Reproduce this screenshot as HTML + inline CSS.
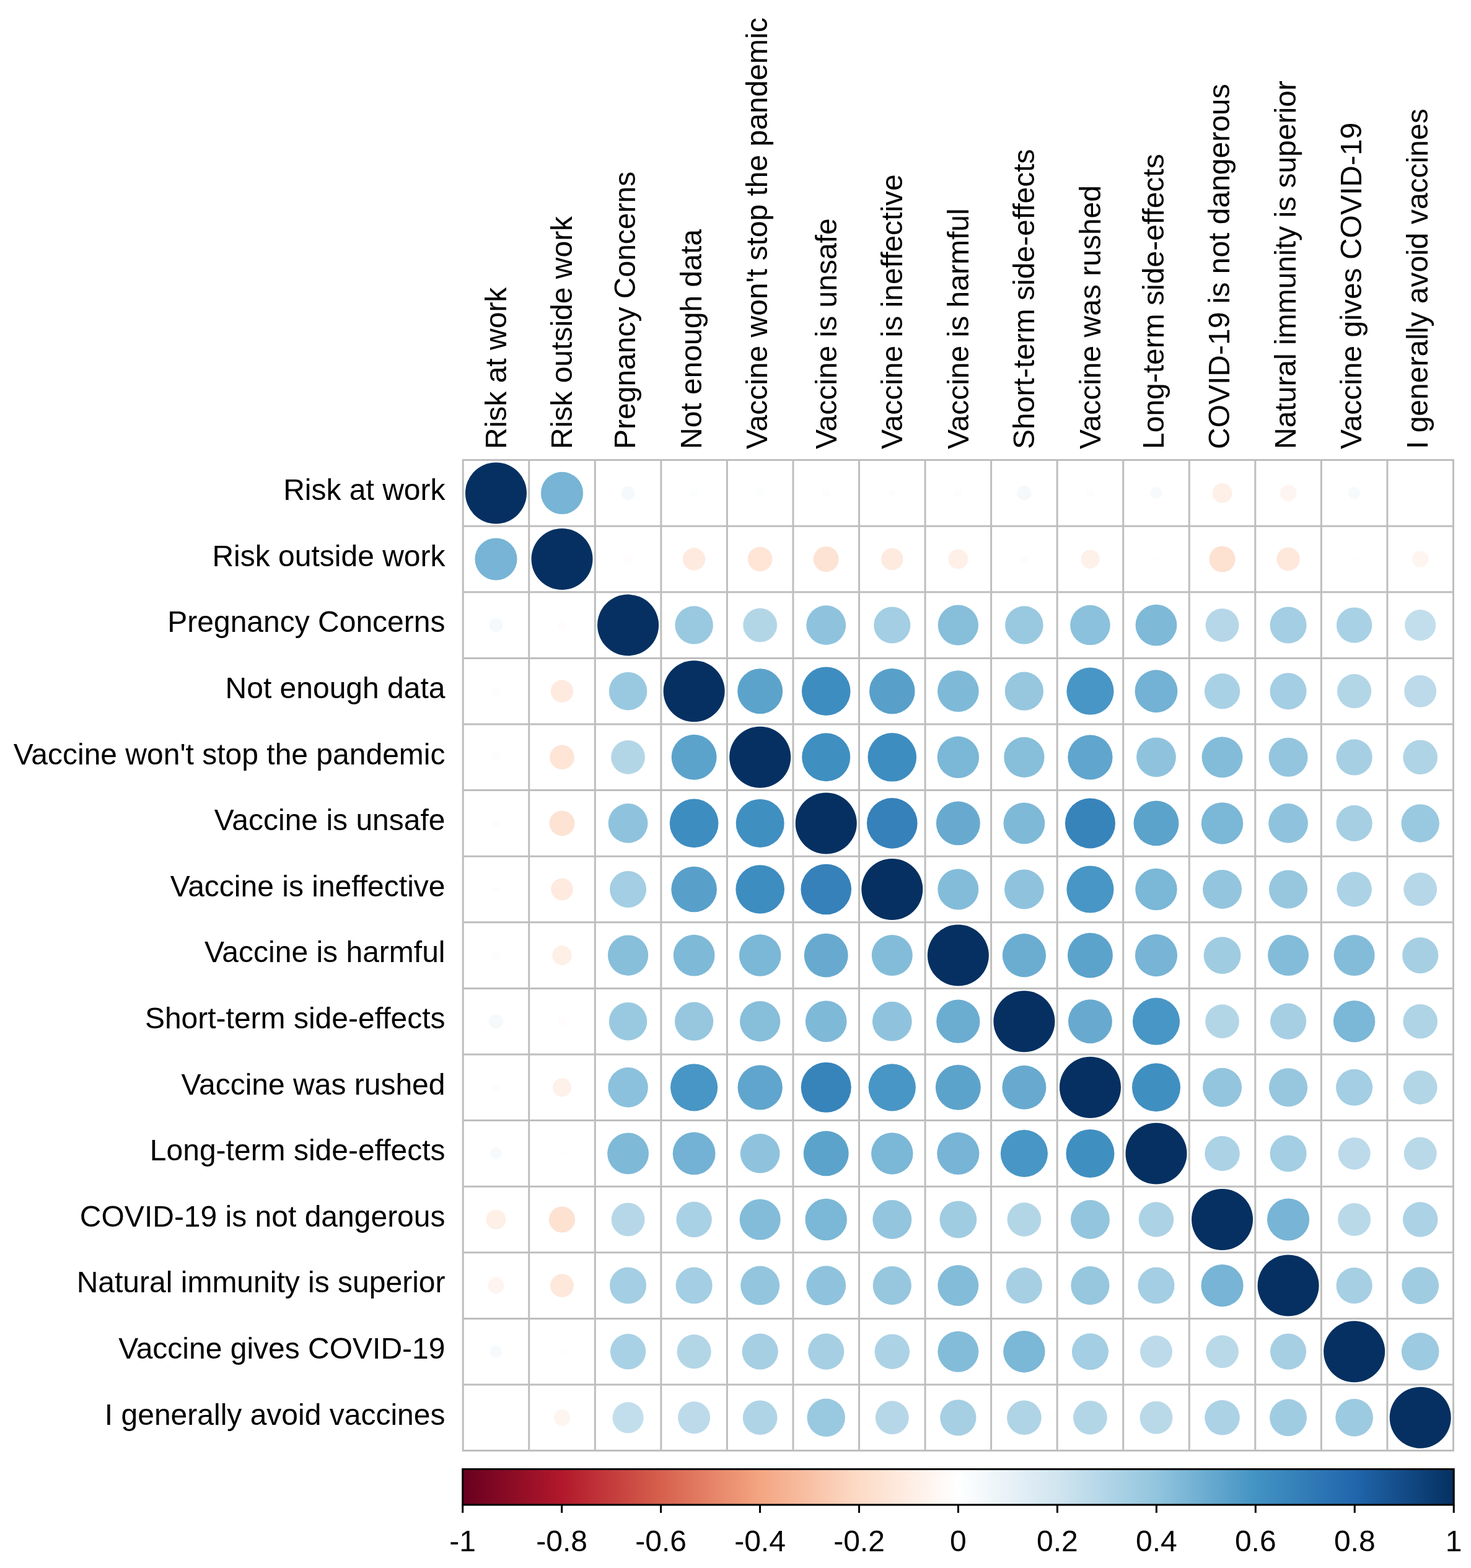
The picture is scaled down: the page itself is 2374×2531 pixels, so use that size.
<!DOCTYPE html>
<html><head><meta charset="utf-8"><title>Correlation plot</title>
<style>html,body{margin:0;padding:0;background:#fff;}svg{display:block;}</style>
</head><body>
<svg width="2374" height="2531" viewBox="0 0 2374 2531">
<rect width="2374" height="2531" fill="#fff"/>
<defs><linearGradient id="g" x1="0" x2="1" y1="0" y2="0"><stop offset="0.0" stop-color="#67001F"/><stop offset="0.1" stop-color="#B2182B"/><stop offset="0.2" stop-color="#D6604D"/><stop offset="0.3" stop-color="#F4A582"/><stop offset="0.4" stop-color="#FDDBC7"/><stop offset="0.5" stop-color="#FFFFFF"/><stop offset="0.6" stop-color="#D1E5F0"/><stop offset="0.7" stop-color="#92C5DE"/><stop offset="0.8" stop-color="#4393C3"/><stop offset="0.9" stop-color="#2166AC"/><stop offset="1.0" stop-color="#053061"/></linearGradient></defs>
<g>
<circle cx="800.48" cy="795.90" r="49.52" fill="#053061"/>
<circle cx="907.03" cy="795.90" r="34.08" fill="#77b4d5"/>
<circle cx="1013.58" cy="795.90" r="11.14" fill="#f5f9fc"/>
<circle cx="1120.12" cy="795.90" r="7.43" fill="#fcfdfe"/>
<circle cx="1226.67" cy="795.90" r="7.43" fill="#fcfdfe"/>
<circle cx="1333.22" cy="795.90" r="7.43" fill="#fcfdfe"/>
<circle cx="1439.78" cy="795.90" r="6.35" fill="#fcfdfe"/>
<circle cx="1546.33" cy="795.90" r="6.35" fill="#fcfdfe"/>
<circle cx="1652.88" cy="795.90" r="11.73" fill="#f5f9fc"/>
<circle cx="1759.43" cy="795.90" r="6.35" fill="#fcfdfe"/>
<circle cx="1865.97" cy="795.90" r="9.86" fill="#f7fafc"/>
<circle cx="1972.53" cy="795.90" r="15.94" fill="#fef0e7"/>
<circle cx="2079.07" cy="795.90" r="13.30" fill="#fef5f0"/>
<circle cx="2185.62" cy="795.90" r="9.86" fill="#f7fafc"/>
<circle cx="800.48" cy="902.50" r="34.08" fill="#77b4d5"/>
<circle cx="907.03" cy="902.50" r="49.52" fill="#053061"/>
<circle cx="1013.58" cy="902.50" r="7.43" fill="#fffcfb"/>
<circle cx="1120.12" cy="902.50" r="18.17" fill="#feeadf"/>
<circle cx="1226.67" cy="902.50" r="19.82" fill="#fee5d6"/>
<circle cx="1333.22" cy="902.50" r="20.44" fill="#fde3d3"/>
<circle cx="1439.78" cy="902.50" r="17.82" fill="#feeadf"/>
<circle cx="1546.33" cy="902.50" r="15.94" fill="#fef0e7"/>
<circle cx="1652.88" cy="902.50" r="7.43" fill="#fffcfb"/>
<circle cx="1759.43" cy="902.50" r="15.12" fill="#fef1ea"/>
<circle cx="1865.97" cy="902.50" r="5.84" fill="#fffefe"/>
<circle cx="1972.53" cy="902.50" r="21.04" fill="#fde1d1"/>
<circle cx="2079.07" cy="902.50" r="18.85" fill="#fee8dc"/>
<circle cx="2185.62" cy="902.50" r="6.35" fill="#fffefe"/>
<circle cx="2292.18" cy="902.50" r="13.30" fill="#fef5f0"/>
<circle cx="800.48" cy="1009.10" r="11.14" fill="#f5f9fc"/>
<circle cx="907.03" cy="1009.10" r="7.43" fill="#fffcfb"/>
<circle cx="1013.58" cy="1009.10" r="49.52" fill="#053061"/>
<circle cx="1120.12" cy="1009.10" r="30.73" fill="#99c9e0"/>
<circle cx="1226.67" cy="1009.10" r="27.38" fill="#b3d6e7"/>
<circle cx="1333.22" cy="1009.10" r="31.89" fill="#8fc3dd"/>
<circle cx="1439.78" cy="1009.10" r="29.52" fill="#a3cee3"/>
<circle cx="1546.33" cy="1009.10" r="32.64" fill="#87beda"/>
<circle cx="1652.88" cy="1009.10" r="30.73" fill="#99c9e0"/>
<circle cx="1759.43" cy="1009.10" r="32.27" fill="#8bc1dc"/>
<circle cx="1865.97" cy="1009.10" r="33.37" fill="#7fb9d8"/>
<circle cx="1972.53" cy="1009.10" r="26.93" fill="#b6d7e8"/>
<circle cx="2079.07" cy="1009.10" r="29.52" fill="#a3cee3"/>
<circle cx="2185.62" cy="1009.10" r="28.69" fill="#a9d1e5"/>
<circle cx="2292.18" cy="1009.10" r="25.05" fill="#c2deec"/>
<circle cx="800.48" cy="1115.70" r="7.43" fill="#fcfdfe"/>
<circle cx="907.03" cy="1115.70" r="18.17" fill="#feeadf"/>
<circle cx="1013.58" cy="1115.70" r="30.73" fill="#99c9e0"/>
<circle cx="1120.12" cy="1115.70" r="49.52" fill="#053061"/>
<circle cx="1226.67" cy="1115.70" r="36.47" fill="#5ca3cb"/>
<circle cx="1333.22" cy="1115.70" r="39.32" fill="#3e8dc0"/>
<circle cx="1439.78" cy="1115.70" r="36.80" fill="#58a0ca"/>
<circle cx="1546.33" cy="1115.70" r="33.37" fill="#7fb9d8"/>
<circle cx="1652.88" cy="1115.70" r="31.12" fill="#96c7df"/>
<circle cx="1759.43" cy="1115.70" r="38.08" fill="#4896c5"/>
<circle cx="1865.97" cy="1115.70" r="34.44" fill="#73b2d4"/>
<circle cx="1972.53" cy="1115.70" r="28.69" fill="#a9d1e5"/>
<circle cx="2079.07" cy="1115.70" r="29.52" fill="#a3cee3"/>
<circle cx="2185.62" cy="1115.70" r="27.60" fill="#b3d6e7"/>
<circle cx="2292.18" cy="1115.70" r="26.01" fill="#bcdaea"/>
<circle cx="800.48" cy="1222.30" r="7.43" fill="#fcfdfe"/>
<circle cx="907.03" cy="1222.30" r="19.82" fill="#fee5d6"/>
<circle cx="1013.58" cy="1222.30" r="27.38" fill="#b3d6e7"/>
<circle cx="1120.12" cy="1222.30" r="36.47" fill="#5ca3cb"/>
<circle cx="1226.67" cy="1222.30" r="49.52" fill="#053061"/>
<circle cx="1333.22" cy="1222.30" r="39.02" fill="#408fc1"/>
<circle cx="1439.78" cy="1222.30" r="39.32" fill="#3e8dc0"/>
<circle cx="1546.33" cy="1222.30" r="33.73" fill="#7bb7d6"/>
<circle cx="1652.88" cy="1222.30" r="32.64" fill="#87beda"/>
<circle cx="1759.43" cy="1222.30" r="36.14" fill="#60a5cd"/>
<circle cx="1865.97" cy="1222.30" r="31.89" fill="#8fc3dd"/>
<circle cx="1972.53" cy="1222.30" r="33.01" fill="#83bcd9"/>
<circle cx="2079.07" cy="1222.30" r="31.51" fill="#93c5de"/>
<circle cx="2185.62" cy="1222.30" r="29.11" fill="#a6cfe4"/>
<circle cx="2292.18" cy="1222.30" r="27.82" fill="#afd4e6"/>
<circle cx="800.48" cy="1328.90" r="7.43" fill="#fcfdfe"/>
<circle cx="907.03" cy="1328.90" r="20.44" fill="#fde3d3"/>
<circle cx="1013.58" cy="1328.90" r="31.89" fill="#8fc3dd"/>
<circle cx="1120.12" cy="1328.90" r="39.32" fill="#3e8dc0"/>
<circle cx="1226.67" cy="1328.90" r="39.02" fill="#408fc1"/>
<circle cx="1333.22" cy="1328.90" r="49.52" fill="#053061"/>
<circle cx="1439.78" cy="1328.90" r="40.82" fill="#3681ba"/>
<circle cx="1546.33" cy="1328.90" r="35.47" fill="#68aacf"/>
<circle cx="1652.88" cy="1328.90" r="33.37" fill="#7fb9d8"/>
<circle cx="1759.43" cy="1328.90" r="40.52" fill="#3784bb"/>
<circle cx="1865.97" cy="1328.90" r="36.47" fill="#5ca3cb"/>
<circle cx="1972.53" cy="1328.90" r="33.73" fill="#7bb7d6"/>
<circle cx="2079.07" cy="1328.90" r="31.89" fill="#8fc3dd"/>
<circle cx="2185.62" cy="1328.90" r="29.11" fill="#a6cfe4"/>
<circle cx="2292.18" cy="1328.90" r="30.73" fill="#99c9e0"/>
<circle cx="800.48" cy="1435.50" r="6.35" fill="#fcfdfe"/>
<circle cx="907.03" cy="1435.50" r="17.82" fill="#feeadf"/>
<circle cx="1013.58" cy="1435.50" r="29.52" fill="#a3cee3"/>
<circle cx="1120.12" cy="1435.50" r="36.80" fill="#58a0ca"/>
<circle cx="1226.67" cy="1435.50" r="39.32" fill="#3e8dc0"/>
<circle cx="1333.22" cy="1435.50" r="40.82" fill="#3681ba"/>
<circle cx="1439.78" cy="1435.50" r="49.52" fill="#053061"/>
<circle cx="1546.33" cy="1435.50" r="33.01" fill="#83bcd9"/>
<circle cx="1652.88" cy="1435.50" r="31.89" fill="#8fc3dd"/>
<circle cx="1759.43" cy="1435.50" r="38.08" fill="#4896c5"/>
<circle cx="1865.97" cy="1435.50" r="33.73" fill="#7bb7d6"/>
<circle cx="1972.53" cy="1435.50" r="31.51" fill="#93c5de"/>
<circle cx="2079.07" cy="1435.50" r="31.12" fill="#96c7df"/>
<circle cx="2185.62" cy="1435.50" r="28.26" fill="#acd2e6"/>
<circle cx="2292.18" cy="1435.50" r="26.93" fill="#b6d7e8"/>
<circle cx="800.48" cy="1542.10" r="6.35" fill="#fcfdfe"/>
<circle cx="907.03" cy="1542.10" r="15.94" fill="#fef0e7"/>
<circle cx="1013.58" cy="1542.10" r="32.64" fill="#87beda"/>
<circle cx="1120.12" cy="1542.10" r="33.37" fill="#7fb9d8"/>
<circle cx="1226.67" cy="1542.10" r="33.73" fill="#7bb7d6"/>
<circle cx="1333.22" cy="1542.10" r="35.47" fill="#68aacf"/>
<circle cx="1439.78" cy="1542.10" r="33.01" fill="#83bcd9"/>
<circle cx="1546.33" cy="1542.10" r="49.52" fill="#053061"/>
<circle cx="1652.88" cy="1542.10" r="35.13" fill="#6badd1"/>
<circle cx="1759.43" cy="1542.10" r="36.47" fill="#5ca3cb"/>
<circle cx="1865.97" cy="1542.10" r="34.08" fill="#77b4d5"/>
<circle cx="1972.53" cy="1542.10" r="29.93" fill="#a0cce2"/>
<circle cx="2079.07" cy="1542.10" r="33.01" fill="#83bcd9"/>
<circle cx="2185.62" cy="1542.10" r="33.01" fill="#83bcd9"/>
<circle cx="2292.18" cy="1542.10" r="29.11" fill="#a6cfe4"/>
<circle cx="800.48" cy="1648.70" r="11.73" fill="#f5f9fc"/>
<circle cx="907.03" cy="1648.70" r="7.43" fill="#fffcfb"/>
<circle cx="1013.58" cy="1648.70" r="30.73" fill="#99c9e0"/>
<circle cx="1120.12" cy="1648.70" r="31.12" fill="#96c7df"/>
<circle cx="1226.67" cy="1648.70" r="32.64" fill="#87beda"/>
<circle cx="1333.22" cy="1648.70" r="33.37" fill="#7fb9d8"/>
<circle cx="1439.78" cy="1648.70" r="31.89" fill="#8fc3dd"/>
<circle cx="1546.33" cy="1648.70" r="35.13" fill="#6badd1"/>
<circle cx="1652.88" cy="1648.70" r="49.52" fill="#053061"/>
<circle cx="1759.43" cy="1648.70" r="35.47" fill="#68aacf"/>
<circle cx="1865.97" cy="1648.70" r="38.08" fill="#4896c5"/>
<circle cx="1972.53" cy="1648.70" r="27.38" fill="#b3d6e7"/>
<circle cx="2079.07" cy="1648.70" r="29.11" fill="#a6cfe4"/>
<circle cx="2185.62" cy="1648.70" r="33.73" fill="#7bb7d6"/>
<circle cx="2292.18" cy="1648.70" r="27.82" fill="#afd4e6"/>
<circle cx="800.48" cy="1755.30" r="6.35" fill="#fcfdfe"/>
<circle cx="907.03" cy="1755.30" r="15.12" fill="#fef1ea"/>
<circle cx="1013.58" cy="1755.30" r="32.27" fill="#8bc1dc"/>
<circle cx="1120.12" cy="1755.30" r="38.08" fill="#4896c5"/>
<circle cx="1226.67" cy="1755.30" r="36.14" fill="#60a5cd"/>
<circle cx="1333.22" cy="1755.30" r="40.52" fill="#3784bb"/>
<circle cx="1439.78" cy="1755.30" r="38.08" fill="#4896c5"/>
<circle cx="1546.33" cy="1755.30" r="36.47" fill="#5ca3cb"/>
<circle cx="1652.88" cy="1755.30" r="35.47" fill="#68aacf"/>
<circle cx="1759.43" cy="1755.30" r="49.52" fill="#053061"/>
<circle cx="1865.97" cy="1755.30" r="39.02" fill="#408fc1"/>
<circle cx="1972.53" cy="1755.30" r="31.51" fill="#93c5de"/>
<circle cx="2079.07" cy="1755.30" r="31.12" fill="#96c7df"/>
<circle cx="2185.62" cy="1755.30" r="29.52" fill="#a3cee3"/>
<circle cx="2292.18" cy="1755.30" r="27.38" fill="#b3d6e7"/>
<circle cx="800.48" cy="1861.90" r="9.86" fill="#f7fafc"/>
<circle cx="907.03" cy="1861.90" r="5.84" fill="#fffefe"/>
<circle cx="1013.58" cy="1861.90" r="33.37" fill="#7fb9d8"/>
<circle cx="1120.12" cy="1861.90" r="34.44" fill="#73b2d4"/>
<circle cx="1226.67" cy="1861.90" r="31.89" fill="#8fc3dd"/>
<circle cx="1333.22" cy="1861.90" r="36.47" fill="#5ca3cb"/>
<circle cx="1439.78" cy="1861.90" r="33.73" fill="#7bb7d6"/>
<circle cx="1546.33" cy="1861.90" r="34.08" fill="#77b4d5"/>
<circle cx="1652.88" cy="1861.90" r="38.08" fill="#4896c5"/>
<circle cx="1759.43" cy="1861.90" r="39.02" fill="#408fc1"/>
<circle cx="1865.97" cy="1861.90" r="49.52" fill="#053061"/>
<circle cx="1972.53" cy="1861.90" r="28.26" fill="#acd2e6"/>
<circle cx="2079.07" cy="1861.90" r="29.52" fill="#a3cee3"/>
<circle cx="2185.62" cy="1861.90" r="26.01" fill="#bcdaea"/>
<circle cx="2292.18" cy="1861.90" r="26.48" fill="#b9d9e9"/>
<circle cx="800.48" cy="1968.50" r="15.94" fill="#fef0e7"/>
<circle cx="907.03" cy="1968.50" r="21.04" fill="#fde1d1"/>
<circle cx="1013.58" cy="1968.50" r="26.93" fill="#b6d7e8"/>
<circle cx="1120.12" cy="1968.50" r="28.69" fill="#a9d1e5"/>
<circle cx="1226.67" cy="1968.50" r="33.01" fill="#83bcd9"/>
<circle cx="1333.22" cy="1968.50" r="33.73" fill="#7bb7d6"/>
<circle cx="1439.78" cy="1968.50" r="31.51" fill="#93c5de"/>
<circle cx="1546.33" cy="1968.50" r="29.93" fill="#a0cce2"/>
<circle cx="1652.88" cy="1968.50" r="27.38" fill="#b3d6e7"/>
<circle cx="1759.43" cy="1968.50" r="31.51" fill="#93c5de"/>
<circle cx="1865.97" cy="1968.50" r="28.26" fill="#acd2e6"/>
<circle cx="1972.53" cy="1968.50" r="49.52" fill="#053061"/>
<circle cx="2079.07" cy="1968.50" r="34.08" fill="#77b4d5"/>
<circle cx="2185.62" cy="1968.50" r="26.48" fill="#b9d9e9"/>
<circle cx="2292.18" cy="1968.50" r="28.26" fill="#acd2e6"/>
<circle cx="800.48" cy="2075.10" r="13.30" fill="#fef5f0"/>
<circle cx="907.03" cy="2075.10" r="18.85" fill="#fee8dc"/>
<circle cx="1013.58" cy="2075.10" r="29.52" fill="#a3cee3"/>
<circle cx="1120.12" cy="2075.10" r="29.52" fill="#a3cee3"/>
<circle cx="1226.67" cy="2075.10" r="31.51" fill="#93c5de"/>
<circle cx="1333.22" cy="2075.10" r="31.89" fill="#8fc3dd"/>
<circle cx="1439.78" cy="2075.10" r="31.12" fill="#96c7df"/>
<circle cx="1546.33" cy="2075.10" r="33.01" fill="#83bcd9"/>
<circle cx="1652.88" cy="2075.10" r="29.11" fill="#a6cfe4"/>
<circle cx="1759.43" cy="2075.10" r="31.12" fill="#96c7df"/>
<circle cx="1865.97" cy="2075.10" r="29.52" fill="#a3cee3"/>
<circle cx="1972.53" cy="2075.10" r="34.08" fill="#77b4d5"/>
<circle cx="2079.07" cy="2075.10" r="49.52" fill="#053061"/>
<circle cx="2185.62" cy="2075.10" r="29.11" fill="#a6cfe4"/>
<circle cx="2292.18" cy="2075.10" r="29.93" fill="#a0cce2"/>
<circle cx="800.48" cy="2181.70" r="9.86" fill="#f7fafc"/>
<circle cx="907.03" cy="2181.70" r="6.35" fill="#fffefe"/>
<circle cx="1013.58" cy="2181.70" r="28.69" fill="#a9d1e5"/>
<circle cx="1120.12" cy="2181.70" r="27.60" fill="#b3d6e7"/>
<circle cx="1226.67" cy="2181.70" r="29.11" fill="#a6cfe4"/>
<circle cx="1333.22" cy="2181.70" r="29.11" fill="#a6cfe4"/>
<circle cx="1439.78" cy="2181.70" r="28.26" fill="#acd2e6"/>
<circle cx="1546.33" cy="2181.70" r="33.01" fill="#83bcd9"/>
<circle cx="1652.88" cy="2181.70" r="33.73" fill="#7bb7d6"/>
<circle cx="1759.43" cy="2181.70" r="29.52" fill="#a3cee3"/>
<circle cx="1865.97" cy="2181.70" r="26.01" fill="#bcdaea"/>
<circle cx="1972.53" cy="2181.70" r="26.48" fill="#b9d9e9"/>
<circle cx="2079.07" cy="2181.70" r="29.11" fill="#a6cfe4"/>
<circle cx="2185.62" cy="2181.70" r="49.52" fill="#053061"/>
<circle cx="2292.18" cy="2181.70" r="30.33" fill="#9ccae1"/>
<circle cx="907.03" cy="2288.30" r="13.30" fill="#fef5f0"/>
<circle cx="1013.58" cy="2288.30" r="25.05" fill="#c2deec"/>
<circle cx="1120.12" cy="2288.30" r="26.01" fill="#bcdaea"/>
<circle cx="1226.67" cy="2288.30" r="27.82" fill="#afd4e6"/>
<circle cx="1333.22" cy="2288.30" r="30.73" fill="#99c9e0"/>
<circle cx="1439.78" cy="2288.30" r="26.93" fill="#b6d7e8"/>
<circle cx="1546.33" cy="2288.30" r="29.11" fill="#a6cfe4"/>
<circle cx="1652.88" cy="2288.30" r="27.82" fill="#afd4e6"/>
<circle cx="1759.43" cy="2288.30" r="27.38" fill="#b3d6e7"/>
<circle cx="1865.97" cy="2288.30" r="26.48" fill="#b9d9e9"/>
<circle cx="1972.53" cy="2288.30" r="28.26" fill="#acd2e6"/>
<circle cx="2079.07" cy="2288.30" r="29.93" fill="#a0cce2"/>
<circle cx="2185.62" cy="2288.30" r="30.33" fill="#9ccae1"/>
<circle cx="2292.18" cy="2288.30" r="49.52" fill="#053061"/>
</g>
<path d="M747.20 741.10V2343.10M745.70 742.60H2346.95M853.75 741.10V2343.10M745.70 849.20H2346.95M960.30 741.10V2343.10M745.70 955.80H2346.95M1066.85 741.10V2343.10M745.70 1062.40H2346.95M1173.40 741.10V2343.10M745.70 1169.00H2346.95M1279.95 741.10V2343.10M745.70 1275.60H2346.95M1386.50 741.10V2343.10M745.70 1382.20H2346.95M1493.05 741.10V2343.10M745.70 1488.80H2346.95M1599.60 741.10V2343.10M745.70 1595.40H2346.95M1706.15 741.10V2343.10M745.70 1702.00H2346.95M1812.70 741.10V2343.10M745.70 1808.60H2346.95M1919.25 741.10V2343.10M745.70 1915.20H2346.95M2025.80 741.10V2343.10M745.70 2021.80H2346.95M2132.35 741.10V2343.10M745.70 2128.40H2346.95M2238.90 741.10V2343.10M745.70 2235.00H2346.95M2345.45 741.10V2343.10M745.70 2341.60H2346.95" stroke="#bebebe" stroke-width="3" fill="none"/>
<g style="font-family:'Liberation Sans',sans-serif" font-size="48" fill="#000">
<text x="718.5" y="807.10" text-anchor="end">Risk at work</text>
<text x="718.5" y="913.70" text-anchor="end">Risk outside work</text>
<text x="718.5" y="1020.30" text-anchor="end">Pregnancy Concerns</text>
<text x="718.5" y="1126.90" text-anchor="end">Not enough data</text>
<text x="718.5" y="1233.50" text-anchor="end">Vaccine won&#39;t stop the pandemic</text>
<text x="718.5" y="1340.10" text-anchor="end">Vaccine is unsafe</text>
<text x="718.5" y="1446.70" text-anchor="end">Vaccine is ineffective</text>
<text x="718.5" y="1553.30" text-anchor="end">Vaccine is harmful</text>
<text x="718.5" y="1659.90" text-anchor="end">Short-term side-effects</text>
<text x="718.5" y="1766.50" text-anchor="end">Vaccine was rushed</text>
<text x="718.5" y="1873.10" text-anchor="end">Long-term side-effects</text>
<text x="718.5" y="1979.70" text-anchor="end">COVID-19 is not dangerous</text>
<text x="718.5" y="2086.30" text-anchor="end">Natural immunity is superior</text>
<text x="718.5" y="2192.90" text-anchor="end">Vaccine gives COVID-19</text>
<text x="718.5" y="2299.50" text-anchor="end">I generally avoid vaccines</text>
<text transform="translate(816.88,725) rotate(-90)" x="0" y="0">Risk at work</text>
<text transform="translate(923.43,725) rotate(-90)" x="0" y="0">Risk outside work</text>
<text transform="translate(1025.28,725) rotate(-90)" x="0" y="0">Pregnancy Concerns</text>
<text transform="translate(1131.83,725) rotate(-90)" x="0" y="0">Not enough data</text>
<text transform="translate(1238.38,725) rotate(-90)" x="0" y="0">Vaccine won&#39;t stop the pandemic</text>
<text transform="translate(1349.62,725) rotate(-90)" x="0" y="0">Vaccine is unsafe</text>
<text transform="translate(1456.18,725) rotate(-90)" x="0" y="0">Vaccine is ineffective</text>
<text transform="translate(1562.73,725) rotate(-90)" x="0" y="0">Vaccine is harmful</text>
<text transform="translate(1669.28,725) rotate(-90)" x="0" y="0">Short-term side-effects</text>
<text transform="translate(1775.83,725) rotate(-90)" x="0" y="0">Vaccine was rushed</text>
<text transform="translate(1877.67,725) rotate(-90)" x="0" y="0">Long-term side-effects</text>
<text transform="translate(1984.23,725) rotate(-90)" x="0" y="0">COVID-19 is not dangerous</text>
<text transform="translate(2090.77,725) rotate(-90)" x="0" y="0">Natural immunity is superior</text>
<text transform="translate(2197.32,725) rotate(-90)" x="0" y="0">Vaccine gives COVID-19</text>
<text transform="translate(2303.88,725) rotate(-90)" x="0" y="0">I generally avoid vaccines</text>
</g>
<rect x="746.7" y="2371.5" width="1599.50" height="57.50" fill="url(#g)" stroke="#000" stroke-width="3"/>
<path d="M746.70 2429.00V2442.00M906.65 2429.00V2442.00M1066.60 2429.00V2442.00M1226.55 2429.00V2442.00M1386.50 2429.00V2442.00M1546.45 2429.00V2442.00M1706.40 2429.00V2442.00M1866.35 2429.00V2442.00M2026.30 2429.00V2442.00M2186.25 2429.00V2442.00M2346.20 2429.00V2442.00" stroke="#000" stroke-width="3"/>
<g style="font-family:'Liberation Sans',sans-serif" font-size="48" fill="#000"><text x="746.70" y="2504" text-anchor="middle">-1</text><text x="906.65" y="2504" text-anchor="middle">-0.8</text><text x="1066.60" y="2504" text-anchor="middle">-0.6</text><text x="1226.55" y="2504" text-anchor="middle">-0.4</text><text x="1386.50" y="2504" text-anchor="middle">-0.2</text><text x="1546.45" y="2504" text-anchor="middle">0</text><text x="1706.40" y="2504" text-anchor="middle">0.2</text><text x="1866.35" y="2504" text-anchor="middle">0.4</text><text x="2026.30" y="2504" text-anchor="middle">0.6</text><text x="2186.25" y="2504" text-anchor="middle">0.8</text><text x="2346.20" y="2504" text-anchor="middle">1</text></g>
</svg>
</body></html>
